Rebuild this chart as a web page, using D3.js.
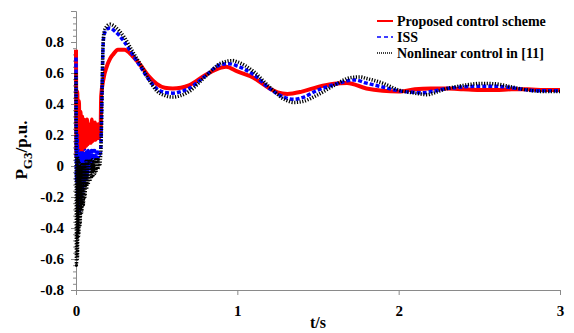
<!DOCTYPE html>
<html>
<head>
<meta charset="utf-8">
<script src="https://cdn.jsdelivr.net/npm/d3@7"></script>
<style>
  body { margin: 0; background: #fff; }
  svg text { font-family: "Liberation Serif", "DejaVu Serif", Times, serif !important; font-weight: bold; }
</style>
</head>
<body>
<script>
// values: [t (s), P (p.u.)]
const proposed = [
  [0, 0.75], [0.004, 0.05], [0.008, 0.48], [0.013, 0.02], [0.018, 0.42], [0.023, 0.05],
  [0.028, 0.35], [0.033, 0.08], [0.038, 0.32], [0.043, 0.1], [0.048, 0.3], [0.053, 0.12],
  [0.058, 0.28], [0.063, 0.13], [0.068, 0.3], [0.073, 0.14], [0.078, 0.27], [0.083, 0.15],
  [0.088, 0.26], [0.093, 0.15], [0.098, 0.3], [0.103, 0.16], [0.108, 0.25], [0.113, 0.17],
  [0.118, 0.28], [0.123, 0.17], [0.128, 0.25], [0.133, 0.18], [0.138, 0.27], [0.143, 0.18],
  [0.148, 0.24], [0.152, 0.2], [0.156, 0.45], [0.17, 0.56], [0.19, 0.64], [0.21, 0.69],
  [0.23, 0.72], [0.26, 0.75], [0.3, 0.75], [0.35, 0.71], [0.4, 0.65], [0.45, 0.58],
  [0.5, 0.53], [0.55, 0.505], [0.6, 0.5], [0.65, 0.505], [0.7, 0.52], [0.8, 0.585],
  [0.9, 0.635], [0.93, 0.64], [1.0, 0.61], [1.1, 0.57], [1.2, 0.5], [1.25, 0.475],
  [1.31, 0.465], [1.4, 0.48], [1.5, 0.51], [1.6, 0.53], [1.68, 0.535], [1.8, 0.5],
  [1.9, 0.485], [2.0, 0.48], [2.1, 0.495], [2.2, 0.5], [2.3, 0.5], [2.4, 0.495],
  [2.5, 0.49], [2.6, 0.49], [2.7, 0.495], [2.8, 0.495], [2.9, 0.49], [3.0, 0.49]
];

const iss = [
  [0, 0.7], [0.003, -0.1], [0.007, 0.2], [0.011, -0.28], [0.016, 0.1], [0.021, -0.3],
  [0.026, 0.08], [0.031, -0.22], [0.036, 0.1], [0.041, -0.18], [0.046, 0.08], [0.051, -0.12],
  [0.056, 0.1], [0.061, -0.1], [0.066, 0.1], [0.071, -0.06], [0.076, 0.1], [0.081, -0.03],
  [0.086, 0.1], [0.091, 0.0], [0.096, 0.1], [0.101, 0.02], [0.106, 0.1], [0.111, 0.04],
  [0.116, 0.1], [0.121, 0.04], [0.126, 0.09], [0.131, 0.05], [0.136, 0.09], [0.141, 0.06],
  [0.146, 0.09], [0.151, 0.08], [0.156, 0.2], [0.162, 0.5], [0.168, 0.78], [0.175, 0.85],
  [0.19, 0.88], [0.21, 0.89], [0.24, 0.87], [0.27, 0.84], [0.3, 0.8], [0.35, 0.72],
  [0.4, 0.64], [0.45, 0.56], [0.5, 0.5], [0.55, 0.475], [0.6, 0.47], [0.65, 0.48],
  [0.7, 0.5], [0.8, 0.58], [0.9, 0.655], [0.95, 0.66], [1.0, 0.645], [1.1, 0.59],
  [1.2, 0.5], [1.3, 0.44], [1.35, 0.43], [1.4, 0.44], [1.5, 0.49], [1.6, 0.525],
  [1.73, 0.555], [1.8, 0.535], [1.9, 0.51], [2.0, 0.485], [2.1, 0.475], [2.15, 0.472],
  [2.2, 0.48], [2.3, 0.5], [2.4, 0.51], [2.5, 0.515], [2.6, 0.515], [2.7, 0.505],
  [2.8, 0.49], [2.9, 0.485], [3.0, 0.485]
];

const nonlinear = [
  [0, 0.6], [0.003, -0.64], [0.006, 0.05], [0.009, -0.6], [0.013, 0.05], [0.017, -0.45],
  [0.021, 0.02], [0.026, -0.38], [0.031, 0.0], [0.036, -0.3], [0.041, 0.02], [0.046, -0.25],
  [0.051, 0.02], [0.056, -0.2], [0.061, 0.03], [0.066, -0.15], [0.071, 0.03], [0.076, -0.12],
  [0.081, 0.03], [0.086, -0.1], [0.091, 0.03], [0.096, -0.08], [0.101, 0.04], [0.106, -0.06],
  [0.111, 0.04], [0.116, -0.05], [0.121, 0.04], [0.126, -0.03], [0.131, 0.04], [0.136, -0.02],
  [0.141, 0.04], [0.146, 0.0], [0.151, 0.04], [0.156, 0.15], [0.162, 0.5], [0.168, 0.8],
  [0.175, 0.87], [0.19, 0.9], [0.21, 0.915], [0.24, 0.9], [0.27, 0.87], [0.3, 0.83],
  [0.35, 0.74], [0.4, 0.655], [0.45, 0.56], [0.5, 0.485], [0.55, 0.455], [0.6, 0.445],
  [0.65, 0.455], [0.7, 0.48], [0.8, 0.575], [0.9, 0.665], [0.97, 0.68], [1.0, 0.672],
  [1.1, 0.61], [1.2, 0.51], [1.3, 0.425], [1.35, 0.41], [1.4, 0.415], [1.5, 0.46],
  [1.6, 0.52], [1.7, 0.57], [1.76, 0.575], [1.8, 0.565], [1.9, 0.535], [2.0, 0.49],
  [2.1, 0.47], [2.18, 0.46], [2.2, 0.465], [2.3, 0.5], [2.4, 0.52], [2.52, 0.533],
  [2.6, 0.53], [2.7, 0.51], [2.8, 0.49], [2.9, 0.48], [3.0, 0.48]
];

const seriesNames = ["Proposed control scheme", "ISS", "Nonlinear control in [11]"];
const xTicks = [0, 1, 2, 3];
const yTicks = [-0.8, -0.6, -0.4, -0.2, 0, 0.2, 0.4, 0.6, 0.8];
const yMinorTicks = d3.range(-0.8, 1.0001, 0.04);

const w = 574;
const h = 333;
const serif = '"Liberation Serif", "DejaVu Serif", Times, serif';

const xScale = d3.scaleLinear().domain([0, 3]).range([76, 560]);
const yScale = d3.scaleLinear().domain([-0.8, 1.0]).range([290, 11]);

const svg = d3.select("body").append("svg").attr("width", w).attr("height", h);

// axes
const axisColor = "#8a8a8a";

const yMinor = svg.append("g")
  .attr("transform", "translate(76,0)")
  .call(d3.axisLeft(yScale).tickValues(yMinorTicks).tickSize(3).tickFormat(""));

const yAxis = svg.append("g")
  .attr("transform", "translate(76,0)")
  .call(d3.axisLeft(yScale).tickValues(yTicks).tickSize(5).tickPadding(7)
    .tickFormat((d) => (Math.abs(d) < 1e-9 ? "0" : d.toFixed(1))));

const xAxis = svg.append("g")
  .attr("transform", "translate(0,290)")
  .call(d3.axisBottom(xScale).tickValues(xTicks).tickSize(5).tickPadding(10)
    .tickFormat(d3.format("d")));

[yMinor, yAxis, xAxis].forEach((g) => {
  g.attr("font-family", serif).attr("font-size", 15);
  g.selectAll("path, line").attr("stroke", axisColor);
  g.selectAll("text").attr("fill", "#000").attr("font-weight", "bold");
});
yMinor.select("path").remove();

// lines
const line = d3.line()
  .x((d) => xScale(d[0]))
  .y((d) => yScale(d[1]))
  .curve(d3.curveMonotoneX);

const styles = [
  { color: "#ff0000", width: 4, dash: null },
  { color: "#0000ff", width: 3.5, dash: "4,2" },
  { color: "#000000", width: 3.5, dash: "1.2,1.5" }
];

[proposed, iss, nonlinear].forEach((data, i) => {
  svg.append("path")
    .datum(data)
    .attr("fill", "none")
    .attr("stroke", styles[i].color)
    .attr("stroke-width", styles[i].width)
    .attr("stroke-dasharray", styles[i].dash)
    .attr("d", line);
});

// legend
const legend = svg.append("g").attr("transform", "translate(377,21)");
seriesNames.forEach((name, i) => {
  const row = legend.append("g").attr("transform", "translate(0," + i * 16 + ")");
  row.append("line")
    .attr("x1", 0).attr("x2", 16)
    .attr("stroke", styles[i].color)
    .attr("stroke-width", i === 0 ? 2 : 1.5)
    .attr("stroke-dasharray", i === 1 ? "4,3" : i === 2 ? "1,1" : null);
  row.append("text")
    .attr("x", 20).attr("y", 5)
    .attr("font-family", serif)
    .attr("font-weight", "bold")
    .attr("font-size", 14)
    .text(name);
});

// axis titles
svg.append("text")
  .attr("x", 318).attr("y", 328)
  .attr("text-anchor", "middle")
  .attr("font-family", serif)
  .attr("font-weight", "bold")
  .attr("font-size", 16)
  .text("t/s");

const yLabel = svg.append("text")
  .attr("transform", "translate(27,150) rotate(-90)")
  .attr("text-anchor", "middle")
  .attr("font-family", serif)
  .attr("font-weight", "bold")
  .attr("font-size", 17);
yLabel.append("tspan").text("P");
yLabel.append("tspan").attr("dy", 5).attr("font-size", 13).text("G3");
yLabel.append("tspan").attr("dy", -5).text("/p.u.");
</script>
</body>
</html>
